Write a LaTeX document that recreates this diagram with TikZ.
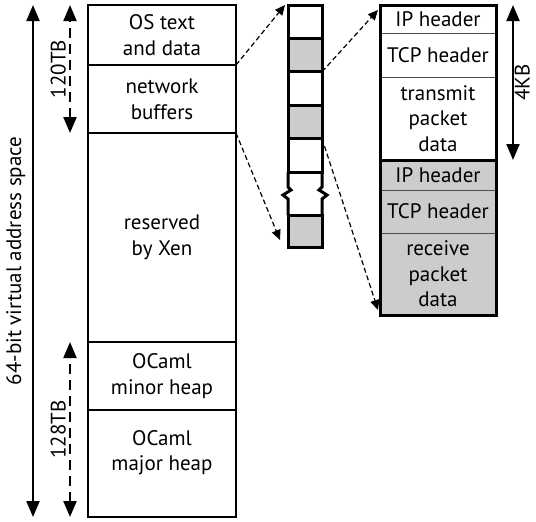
\documentclass[tikz,border=0pt]{standalone}
\usepackage{fontspec}
\setmainfont{PT Sans}
\usepackage{tikz}
\usetikzlibrary{arrows.meta,positioning}
\definecolor{bufgray}{gray}{0.8}
\tikzstyle{mem} = [rectangle, draw=black, line width=1.3pt, outer sep=0pt, inner sep=0pt, minimum width=74pt, align=center]
\tikzstyle{slot} = [rectangle, draw=black, line width=1.5pt, outer sep=0pt, inner sep=0pt, minimum width=17pt, minimum height=16.7pt]
\tikzstyle{pkt} = [rectangle, draw=black!70, line width=0.5pt, outer sep=0pt, inner sep=0pt, minimum width=58pt, align=center]
\tikzstyle{frame} = [line width=1.5pt]
\tikzstyle{span} = [line width=1pt, {Triangle[length=8pt,width=6.5pt]}-{Triangle[length=8pt,width=6.5pt]}]
\tikzstyle{halfspan} = [span, dash pattern=on 5pt off 3pt]
\tikzstyle{zoomline} = [line width=0.6pt, dash pattern=on 2.5pt off 1.5pt, -{Triangle[length=5pt,width=4.5pt]}]

\begin{document}
\begin{tikzpicture}[x=0.5pt,y=-0.5pt,font=\fontsize{10.5}{12.8}\selectfont]
\useasboundingbox (0,0) rectangle (536,521);

% address space column
\node (os) [mem, minimum height=30pt, anchor=north west] at (88,5) {OS text\\and data};
\node (net) [mem, minimum height=34pt, below=0pt of os] {network\\buffers};
\node (xen) [mem, minimum height=104.5pt, below=0pt of net] {reserved\\by Xen};
\node (minor) [mem, minimum height=34pt, below=0pt of xen] {OCaml\\minor heap};
\node (major) [mem, minimum height=53.5pt, below=0pt of minor] {OCaml\\major heap\\~};

% buffer strip
\node (blk1) [slot, anchor=north west] at (288,5) {};
\node (blk2) [slot, fill=bufgray, below=0pt of blk1] {};
\node (blk3) [slot, below=0pt of blk2] {};
\node (blk4) [slot, fill=bufgray, below=0pt of blk3] {};
\node (blk5) [slot, below=0pt of blk4] {};
\node (blk6) [slot, fill=bufgray, minimum height=16pt, anchor=north west] at (288,215) {};
\draw [frame] (blk5.south west) -- ++(0,15) -- ++(3,3) -- ++(-8,5) -- ++(5,4) -- (blk6.north west);
\draw [frame] (blk5.south east) -- ++(0,15) -- ++(-3,3) -- ++(8,5) -- ++(-5,4) -- (blk6.north east);

% one page
\node (iptx) [pkt, minimum height=14pt, anchor=north west] at (380,5) {IP header};
\node (tcptx) [pkt, minimum height=22pt, below=0pt of iptx] {TCP header};
\node (datatx) [pkt, minimum height=41.5pt, below=0pt of tcptx] {transmit\\packet\\data};
\node (iprx) [pkt, fill=bufgray, minimum height=15pt, below=0pt of datatx] {IP header};
\node (tcprx) [pkt, fill=bufgray, minimum height=21.5pt, below=0pt of iprx] {TCP header};
\node (datarx) [pkt, fill=bufgray, minimum height=41pt, below=0pt of tcprx] {receive\\packet\\data};
\draw [frame] (iptx.north west) rectangle (datatx.south east);
\draw [frame] (iprx.north west) rectangle (datarx.south east);

% sizes
\coordinate (vtop) at (33,5);
\coordinate (vbot) at (33,517);
\coordinate (ostop) at (70,5);
\coordinate (osbot) at (70,133);
\coordinate (heaptop) at (70,342);
\coordinate (heapbot) at (70,517);
\coordinate (pgtop) at (513,5);
\coordinate (pgbot) at (513,160);
\draw [span] (vbot) -- (vtop) node [midway, above, sloped] {64-bit virtual address space};
\draw [halfspan] (osbot) -- (ostop) node [midway, above, sloped, inner sep=1.5pt] {120TB};
\draw [halfspan] (heapbot) -- (heaptop) node [midway, above, sloped, inner sep=1.5pt] {128TB};
\draw [span] (pgbot) -- (pgtop) node [midway, below, sloped, inner sep=0.3pt] {4KB};

% zoom lines
\draw [zoomline] (os.south east) -- ([xshift=-1.5pt]blk1.north west);
\draw [zoomline] (net.south east) -- ([xshift=-4pt,yshift=3.5pt]blk6.south west);
\draw [zoomline] (blk2.south east) -- ([xshift=-1pt,yshift=-2.5pt]iptx.north west);
\draw [zoomline] (blk4.south east) -- ([xshift=-1pt,yshift=2.5pt]datarx.south west);
\end{tikzpicture}
\end{document}
